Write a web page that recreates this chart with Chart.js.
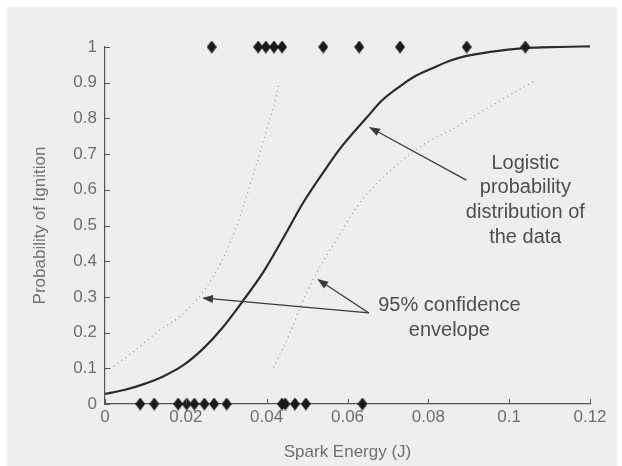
<!DOCTYPE html>
<html>
<head>
<meta charset="utf-8">
<script src="https://cdn.jsdelivr.net/npm/chart.js@4/dist/chart.umd.min.js"></script>
<style>
  html, body { margin: 0; padding: 0; background: #ffffff; }
  #wrap { position: relative; width: 622px; height: 466px; overflow: hidden; }
  #panel { position: absolute; left: 7px; top: 7px; width: 610px; height: 459px; background: #eeeeee; }
  #c { position: absolute; left: 0; top: 0; }
</style>
</head>
<body>
<div id="wrap">
  <div id="panel"></div>
  <canvas id="c" width="622" height="466"></canvas>
</div>
<script>
// Fitted logistic curve: spark energy (J) vs probability of ignition
const curveEnergy = [0, 0.005, 0.0094, 0.0145, 0.0193, 0.0243, 0.0288, 0.0342, 0.0392, 0.0441, 0.0491, 0.055, 0.0582, 0.0648, 0.0685, 0.073, 0.077, 0.0813, 0.0855, 0.0895, 0.0978, 0.106, 0.1126, 0.12];
const curveProb   = [0.028, 0.04, 0.055, 0.078, 0.108, 0.155, 0.21, 0.29, 0.37, 0.465, 0.565, 0.665, 0.716, 0.803, 0.85, 0.89, 0.92, 0.942, 0.962, 0.975, 0.99, 0.998, 1.0, 1.002];

// 95% confidence envelope, upper bound (left branch)
const upperEnergy = [0.0012, 0.0078, 0.0128, 0.0186, 0.0227, 0.0268, 0.0309, 0.0342, 0.0375, 0.0388, 0.0408, 0.0417, 0.0429];
const upperProb   = [0.098, 0.153, 0.2, 0.246, 0.292, 0.357, 0.45, 0.552, 0.673, 0.72, 0.8, 0.83, 0.891];

// 95% confidence envelope, lower bound (right branch)
const lowerEnergy = [0.0417, 0.0458, 0.0495, 0.0532, 0.0573, 0.0623, 0.0689, 0.0755, 0.0804, 0.0854, 0.0936, 0.1019, 0.1064];
const lowerProb   = [0.102, 0.2, 0.302, 0.385, 0.46, 0.552, 0.636, 0.7, 0.738, 0.766, 0.822, 0.877, 0.905];

// Test outcomes: sparks that ignited (1) and did not ignite (0)
const ignitionEnergy   = [0.0264, 0.0379, 0.0398, 0.0418, 0.0438, 0.054, 0.0629, 0.073, 0.0895, 0.104];
const noIgnitionEnergy = [0.0087, 0.0122, 0.0181, 0.0202, 0.0221, 0.0246, 0.027, 0.0301, 0.0438, 0.0446, 0.047, 0.0497, 0.0637];

// Axis ticks
const xTicks = [0, 0.02, 0.04, 0.06, 0.08, 0.1, 0.12];
const yTicks = [0, 0.1, 0.2, 0.3, 0.4, 0.5, 0.6, 0.7, 0.8, 0.9, 1];

const pairs = (xs, ys) => xs.map((x, i) => ({ x, y: ys[i] }));
const level = (xs, v) => xs.map(x => ({ x, y: v }));

// Tall filled diamond marker
function diamond(w, h, color) {
  const c = document.createElement('canvas');
  c.width = w; c.height = h;
  const g = c.getContext('2d');
  g.fillStyle = color;
  g.beginPath();
  g.moveTo(w / 2, 0); g.lineTo(w, h / 2); g.lineTo(w / 2, h); g.lineTo(0, h / 2);
  g.closePath(); g.fill();
  return c;
}
const marker = diamond(10, 13, '#1a1a1a');

// Callout text and arrows, anchored in data units
const notes = [
  { lines: ['Logistic', 'probability', 'distribution of', 'the data'], x: 0.1040, y: 0.6745 },
  { lines: ['95% confidence', 'envelope'], x: 0.0852, y: 0.2755 }
];
const arrows = [
  { from: [0.0894, 0.627], to: [0.0653, 0.776] },
  { from: [0.0653, 0.255], to: [0.0525, 0.35] },
  { from: [0.0653, 0.255], to: [0.024, 0.297] }
];

const decorations = {
  id: 'decorations',
  afterDraw(chart) {
    const { ctx, scales: { x, y } } = chart;
    ctx.save();
    // inward tick marks
    ctx.strokeStyle = '#555';
    ctx.lineWidth = 1;
    y.ticks.forEach(t => {
      const py = Math.round(y.getPixelForValue(t.value)) + 0.5;
      ctx.beginPath(); ctx.moveTo(x.left, py); ctx.lineTo(x.left + 5, py); ctx.stroke();
    });
    x.ticks.forEach(t => {
      const px = Math.round(x.getPixelForValue(t.value)) + 0.5;
      ctx.beginPath(); ctx.moveTo(px, y.bottom); ctx.lineTo(px, y.bottom - 5); ctx.stroke();
    });
    // arrows
    ctx.strokeStyle = '#3a3a3a';
    ctx.fillStyle = '#3a3a3a';
    ctx.lineWidth = 1.3;
    arrows.forEach(a => {
      const x0 = x.getPixelForValue(a.from[0]), y0 = y.getPixelForValue(a.from[1]);
      const x1 = x.getPixelForValue(a.to[0]), y1 = y.getPixelForValue(a.to[1]);
      const ang = Math.atan2(y1 - y0, x1 - x0);
      const len = 11, half = 4;
      const bx = x1 - len * Math.cos(ang), by = y1 - len * Math.sin(ang);
      ctx.beginPath(); ctx.moveTo(x0, y0); ctx.lineTo(bx, by); ctx.stroke();
      ctx.beginPath();
      ctx.moveTo(x1, y1);
      ctx.lineTo(bx + half * Math.sin(ang), by - half * Math.cos(ang));
      ctx.lineTo(bx - half * Math.sin(ang), by + half * Math.cos(ang));
      ctx.closePath(); ctx.fill();
    });
    // callout text
    ctx.fillStyle = '#4e4e4e';
    ctx.font = '20px "Liberation Sans", Arial, sans-serif';
    ctx.textAlign = 'center';
    ctx.textBaseline = 'middle';
    notes.forEach(n => {
      const cx = x.getPixelForValue(n.x), cy = y.getPixelForValue(n.y);
      n.lines.forEach((line, i) => ctx.fillText(line, cx, cy + i * 24.7));
    });
    ctx.restore();
  }
};

const tickFont = { family: '"Liberation Sans", Arial, sans-serif', size: 17 };

new Chart(document.getElementById('c'), {
  type: 'scatter',
  data: {
    datasets: [
      {
        data: pairs(curveEnergy, curveProb), showLine: true,
        borderColor: '#2b2b2b', borderWidth: 2.2, pointRadius: 0,
        cubicInterpolationMode: 'monotone', clip: false, order: 2
      },
      {
        data: pairs(upperEnergy, upperProb), showLine: true,
        borderColor: '#a0a0a0', borderWidth: 1.1, borderDash: [1.2, 3.6], pointRadius: 0,
        cubicInterpolationMode: 'monotone', clip: false, order: 3
      },
      {
        data: pairs(lowerEnergy, lowerProb), showLine: true,
        borderColor: '#a0a0a0', borderWidth: 1.1, borderDash: [1.2, 3.6], pointRadius: 0,
        cubicInterpolationMode: 'monotone', clip: false, order: 3
      },
      {
        data: level(ignitionEnergy, 1), pointStyle: marker, pointRadius: 6,
        clip: false, order: 1
      },
      {
        data: level(noIgnitionEnergy, 0), pointStyle: marker, pointRadius: 6,
        clip: false, order: 1
      }
    ]
  },
  options: {
    responsive: false,
    animation: false,
    devicePixelRatio: 1,
    layout: { padding: { left: 0, right: 32, top: 47, bottom: 0 } },
    plugins: { legend: { display: false }, tooltip: { enabled: false } },
    scales: {
      x: {
        type: 'linear', min: 0, max: 0.12,
        afterBuildTicks: s => { s.ticks = xTicks.map(v => ({ value: v })); },
        afterFit: s => { s.height = 62; },
        grid: { display: false, drawTicks: false },
        border: { display: true, color: '#555', width: 1.2 },
        ticks: {
          font: tickFont, color: '#6e6e6e', padding: 3, maxRotation: 0, autoSkip: false,
          callback: v => String(Number(v.toFixed(2)))
        },
        title: {
          display: true, text: 'Spark Energy (J)', color: '#707070',
          font: tickFont, padding: { top: 0, bottom: 3 }
        }
      },
      y: {
        type: 'linear', min: 0, max: 1,
        afterBuildTicks: s => { s.ticks = yTicks.map(v => ({ value: v })); },
        afterFit: s => { s.width = 105; },
        grid: { display: false, drawTicks: false },
        border: { display: true, color: '#555', width: 1.2 },
        ticks: {
          font: tickFont, color: '#6e6e6e', padding: 8, autoSkip: false,
          callback: v => String(Number(v.toFixed(1)))
        },
        title: {
          display: true, text: 'Probability of Ignition', color: '#707070',
          font: tickFont, padding: { top: 30, bottom: 0 }
        }
      }
    }
  },
  plugins: [decorations]
});
</script>
</body>
</html>
